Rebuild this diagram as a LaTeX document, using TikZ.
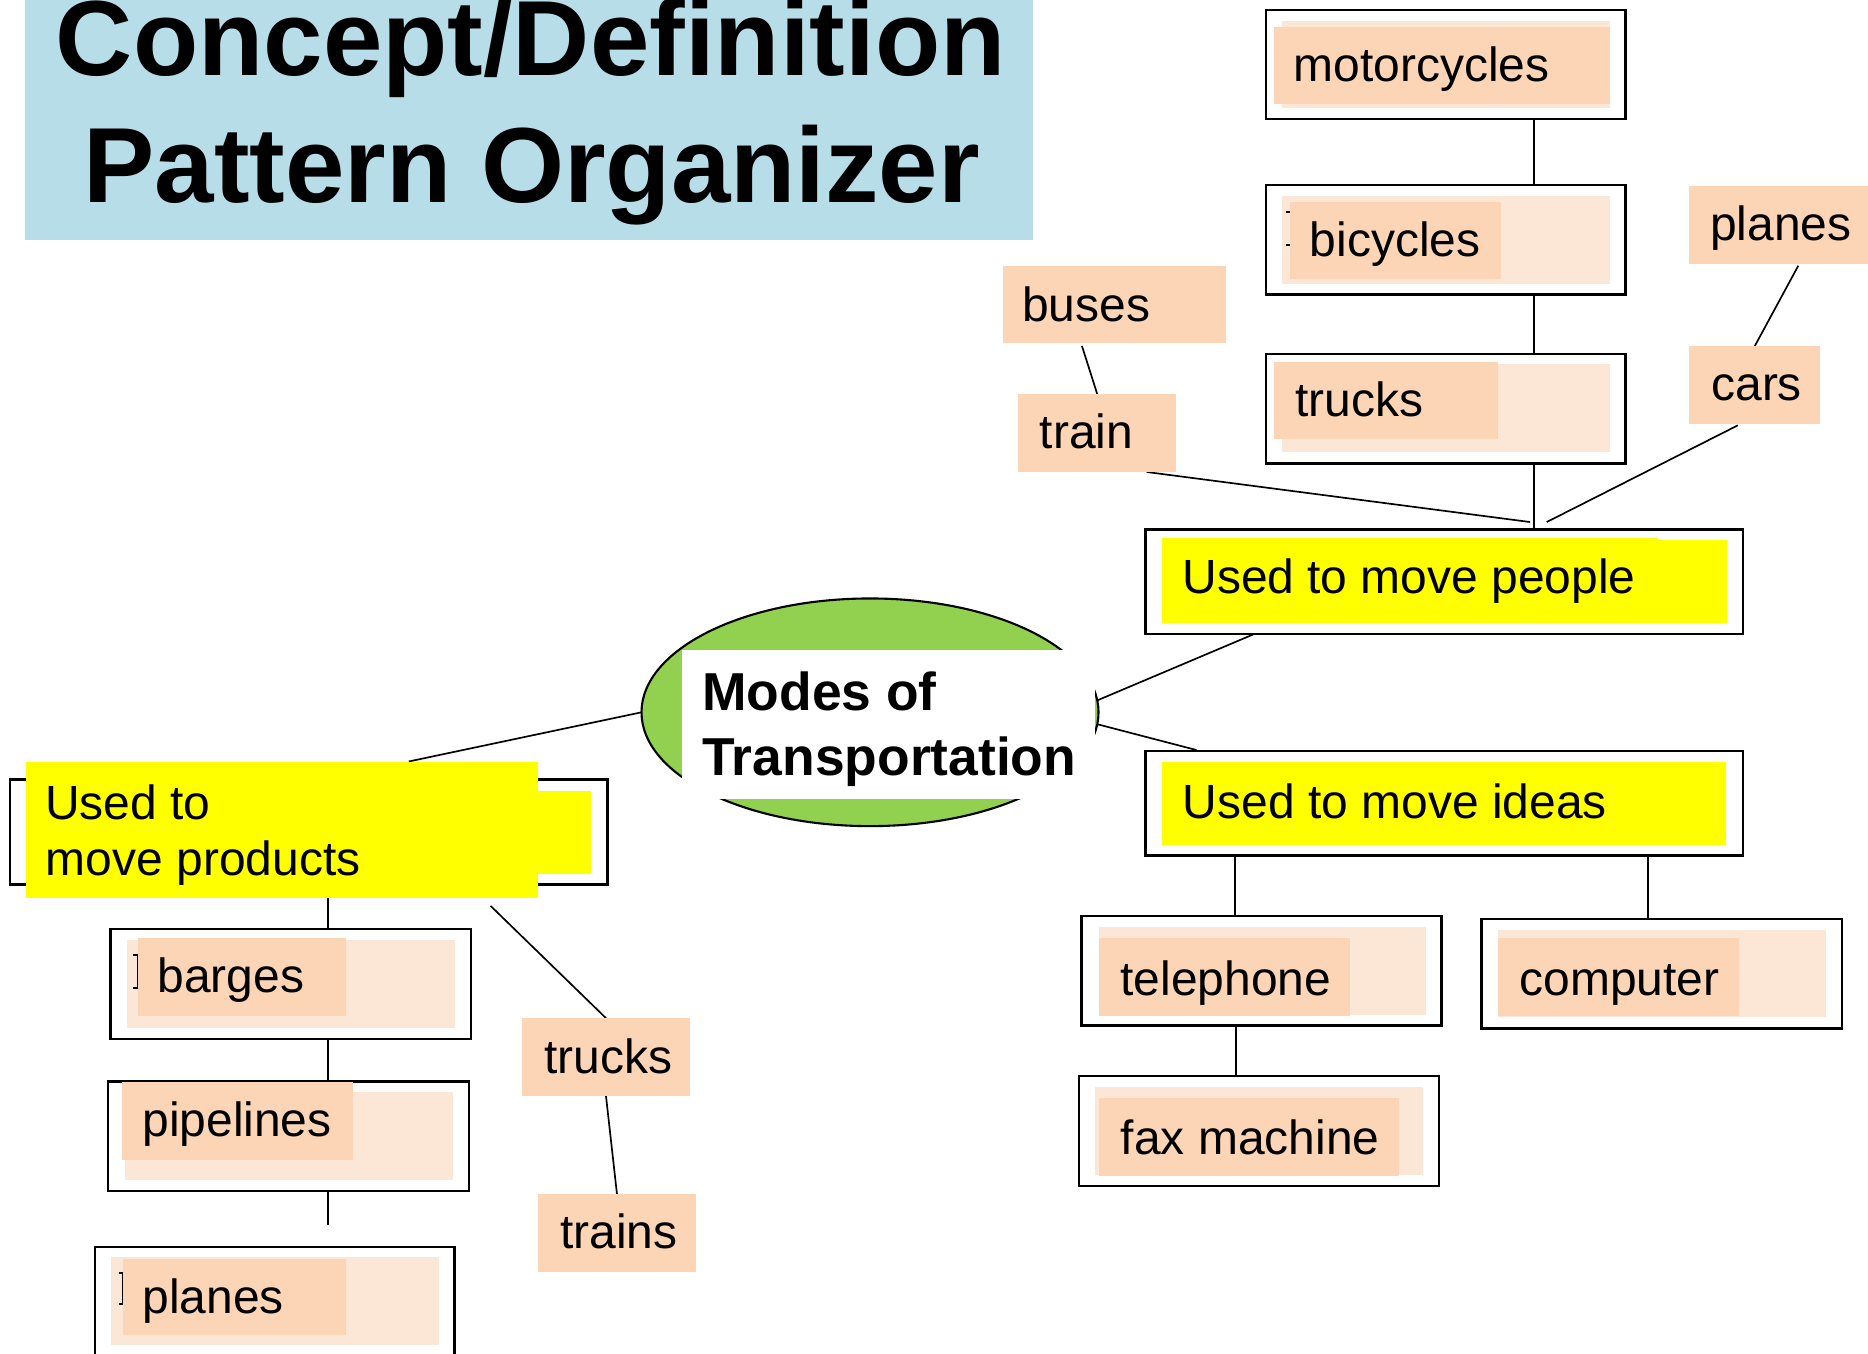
\documentclass[tikz,border=0pt]{standalone}
\usepackage{fontspec}
\setmainfont{Liberation Sans}
\usetikzlibrary{fit,shapes.geometric,backgrounds}

\definecolor{titleblue}{RGB}{183,221,232}
\definecolor{hiyellow}{RGB}{255,255,0}
\definecolor{peach}{RGB}{251,213,181}
\definecolor{palepeach}{RGB}{252,230,214}
\definecolor{leafgreen}{RGB}{146,208,80}

\tikzset{
  frame/.style={draw=black, line width=0.6pt, fill=white, inner sep=0pt, outer sep=0pt},
  pale/.style={fill=palepeach, inner sep=0pt, outer sep=0pt},
  tag/.style={fill=peach, inner sep=0pt, outer sep=0pt},
  hilite/.style={fill=hiyellow, inner sep=0pt, outer sep=0pt},
  word/.style={inner sep=0pt, outer sep=0pt, anchor=base west, xshift=0.025cm,
               font=\fontsize{11.45}{13.3}\selectfont},
  headword/.style={inner sep=0pt, outer sep=0pt, anchor=base,
               font=\fontsize{25.5}{30}\selectfont\bfseries},
  hubword/.style={inner sep=0pt, outer sep=0pt, anchor=base west,
               font=\fontsize{12.75}{15}\selectfont\bfseries},
  link/.style={draw=black, line width=0.4pt},
  caret/.style={draw=black, line width=0.5pt}
}

\begin{document}
\begin{tikzpicture}[x=0.01cm,y=-0.01cm]
\useasboundingbox (0,0) rectangle (1568,1136);
\clip (0,0) rectangle (1568,1136);

% ---------- title ----------
\node[fill=titleblue, inner sep=0pt, outer sep=0pt, fit={(21.3,-5) (867.3,201.5)}] (title) {};
\node[headword] (titleA) at (445.5,63.5) {Concept/Definition};
\node[headword] (titleB) at (446.3,170) {Pattern Organizer};

% ---------- people column ----------
\node[frame, fit={(1062.5,8.4) (1364.5,100)}] (motoF) {};
\node[pale, fit={(1076,17.6) (1351.5,91)}] (motoP) {};
\node[tag, fit={(1069.5,22.4) (1351.5,87.3)}] (motoT) {};
\node[word] (moto) at (1083.5,68.5) {motorcycles};

\node[frame, fit={(1062.5,155.3) (1364.5,247)}] (bicF) {};
\node[pale, fit={(1076,164.5) (1351.5,238)}] (bicP) {};
\draw[caret] (1079.5,177.7) -- (1084,177.7) -- (1084,205.7) -- (1079.5,205.7);
\node[tag, fit={(1083,169.6) (1260,234.5)}] (bicT) {};
\node[word] (bic) at (1097,215.5) {bicycles};

\node[frame, fit={(1062.5,297) (1364.5,389)}] (trkF) {};
\node[pale, fit={(1076,305.5) (1351.5,379)}] (trkP) {};
\node[tag, fit={(1069.5,304) (1257.5,368.8)}] (trkT) {};
\node[word] (trk) at (1085,349.8) {trucks};

\node[tag, fit={(841.8,223.3) (1029,288.2)}] (busesBox) {};
\node[word] (buses) at (855.5,270) {buses};
\node[tag, fit={(854.8,330.7) (987.2,396.2)}] (trainBox) {};
\node[word] (train) at (870.3,376.3) {train};
\node[tag, fit={(1418,156.1) (1568,221.6)}] (planesBox) {};
\node[word] (planes) at (1433,201.5) {planes};
\node[tag, fit={(1418,290.4) (1528,355.9)}] (carsBox) {};
\node[word] (cars) at (1434,335.8) {cars};

\node[frame, fit={(961.4,444.3) (1462.9,532.2)}] (peopleF) {};
\node[hilite, fit={(975.3,453.5) (1449.6,522.7)}] (peopleY2) {};
\node[hilite, fit={(975.3,451.3) (1392,522.7)}] (peopleY) {};
\node[word] (people) at (990,498) {Used to move people};

% ---------- central concept ----------
\node[ellipse, draw=black, line width=0.5pt, fill=leafgreen, inner sep=0pt, outer sep=0pt,
      minimum width=3.834cm, minimum height=1.91cm] (modes) at (730.3,597.9) {};
\node[fill=white, inner sep=0pt, outer sep=0pt, fit={(572.2,545.6) (919.5,670.7)}] (modesPad) {};
\node[hubword] (modesA) at (589.5,596.5) {Modes of};
\node[hubword] (modesB) at (589.5,651) {Transportation};

% ---------- ideas column ----------
\node[frame, fit={(961.6,630.4) (1463,718)}] (ideasF) {};
\node[hilite, fit={(975.4,639.6) (1449,709.3)}] (ideasY) {};
\node[word] (ideas) at (990.5,687) {Used to move ideas};

\node[frame, fit={(907.9,768.9) (1209.9,861)}] (telF) {};
\node[pale, fit={(922.2,778.2) (1197,852)}] (telP) {};
\node[tag, fit={(922.2,787.4) (1133.3,852.6)}] (telT) {};
\node[word] (tel) at (938,835.2) {telephone};

\node[frame, fit={(1243.6,771.2) (1546,863.5)}] (compF) {};
\node[pale, fit={(1257.5,780.7) (1532.6,854)}] (compP) {};
\node[tag, fit={(1257.5,787.4) (1459.9,852.6)}] (compT) {};
\node[word] (comp) at (1273,835.2) {computer};

\node[frame, fit={(905.7,903.2) (1207.7,995.6)}] (faxF) {};
\node[pale, fit={(919.2,912.5) (1194.3,986.3)}] (faxP) {};
\node[tag, fit={(922.2,921.7) (1174.4,986.9)}] (faxT) {};
\node[word] (fax) at (938.3,969.5) {fax machine};

% ---------- products column ----------
\node[frame, fit={(8.5,654.4) (510,742.6)}] (prodF) {};
\node[hilite, fit={(22,664.2) (496.1,733.5)}] (prodY2) {};
\node[hilite, fit={(22,639.2) (451.8,753.9)}] (prodY) {};
\node[word] (prodA) at (35.3,687.7) {Used to};
\node[word] (prodB) at (36,734.5) {move products};

\node[frame, fit={(92.9,779.6) (395.5,872)}] (bargeF) {};
\node[pale, fit={(106.8,788.7) (381.6,862.7)}] (bargeP) {};
\draw[caret] (112,802) -- (115.5,802) -- (115.5,829.7) -- (112,829.7);
\node[tag, fit={(116,787.4) (290.3,852.7)}] (bargeT) {};
\node[word] (barge) at (129.6,833) {barges};

\node[frame, fit={(90.6,907.9) (393.6,999.6)}] (pipeF) {};
\node[pale, fit={(104.8,916.6) (380.5,990.2)}] (pipeP) {};
\node[tag, fit={(102.6,907.9) (296.4,973.4)}] (pipeT) {};
\node[word] (pipe) at (117,954) {pipelines};

\node[frame, fit={(79.8,1046.7) (381.6,1145)}] (planeF) {};
\node[pale, fit={(93.3,1055.1) (368.1,1129.4)}] (planeP) {};
\draw[caret] (99.5,1068.6) -- (103.3,1068.6) -- (103.3,1094.5) -- (99.5,1094.5);
\node[tag, fit={(103.3,1056.4) (290.3,1120.9)}] (planeT) {};
\node[word] (plane) at (117,1102.5) {planes};

\node[tag, fit={(438.3,854.6) (579,919.8)}] (trk2Box) {};
\node[word] (trk2) at (454.2,900.7) {trucks};
\node[tag, fit={(451.8,1002.4) (584,1067.3)}] (trainsBox) {};
\node[word] (trains) at (467.6,1048.3) {trains};

% ---------- connectors ----------
\begin{scope}[on background layer]
  \coordinate (colA) at (1287.8,0);
  \coordinate (colB) at (275.6,0);
  \coordinate (colC) at (1036.4,0);
  \coordinate (colD) at (1383.4,0);
  \coordinate (colE) at (1037.7,0);
  \coordinate (pipeEnd) at (275.6,1028.3);

  \draw[link] (motoF.south -| colA) -- (bicF.north -| colA);
  \draw[link] (bicF.south -| colA) -- (trkF.north -| colA);
  \draw[link] (trkF.south -| colA) -- (peopleF.north -| colA);
  \draw[link] ([xshift=-0.272cm,yshift=-0.022cm]busesBox.south) -- (trainBox.north);
  \draw[link] ([xshift=-0.246cm]trainBox.south east) -- ([xshift=0.7215cm,yshift=0.061cm]peopleF.north);
  \draw[link] ([xshift=0.165cm,yshift=-0.014cm]planesBox.south) -- (carsBox.north);
  \draw[link] ([xshift=-0.142cm,yshift=-0.011cm]carsBox.south) -- ([xshift=0.8615cm,yshift=0.061cm]peopleF.north);

  \draw[link] ([xshift=-1.5645cm,yshift=0.012cm]peopleF.south) -- (modes.3.5);
  \draw[link] (modes.-3) -- ([xshift=-2.078cm,yshift=0.008cm]ideasF.north);
  \draw[link] (modes.west) -- ([xshift=1.061cm]prodY.north);

  \draw[link] (ideasF.south -| colC) -- (telF.north -| colC);
  \draw[link] (ideasF.south -| colD) -- (compF.north -| colD);
  \draw[link] (telF.south -| colE) -- (faxF.north -| colE);

  \draw[link] (prodY.south -| colB) -- (bargeF.north -| colB);
  \draw[link] (bargeF.south -| colB) -- (pipeF.north -| colB);
  \draw[link] (pipeF.south -| colB) -- (pipeEnd);
  \draw[link] ([xshift=1.748cm,yshift=-0.065cm]prodY.south) -- (trk2Box.north);
  \draw[link] (trk2Box.south) -- (trainsBox.north);
\end{scope}
\end{tikzpicture}
\end{document}
